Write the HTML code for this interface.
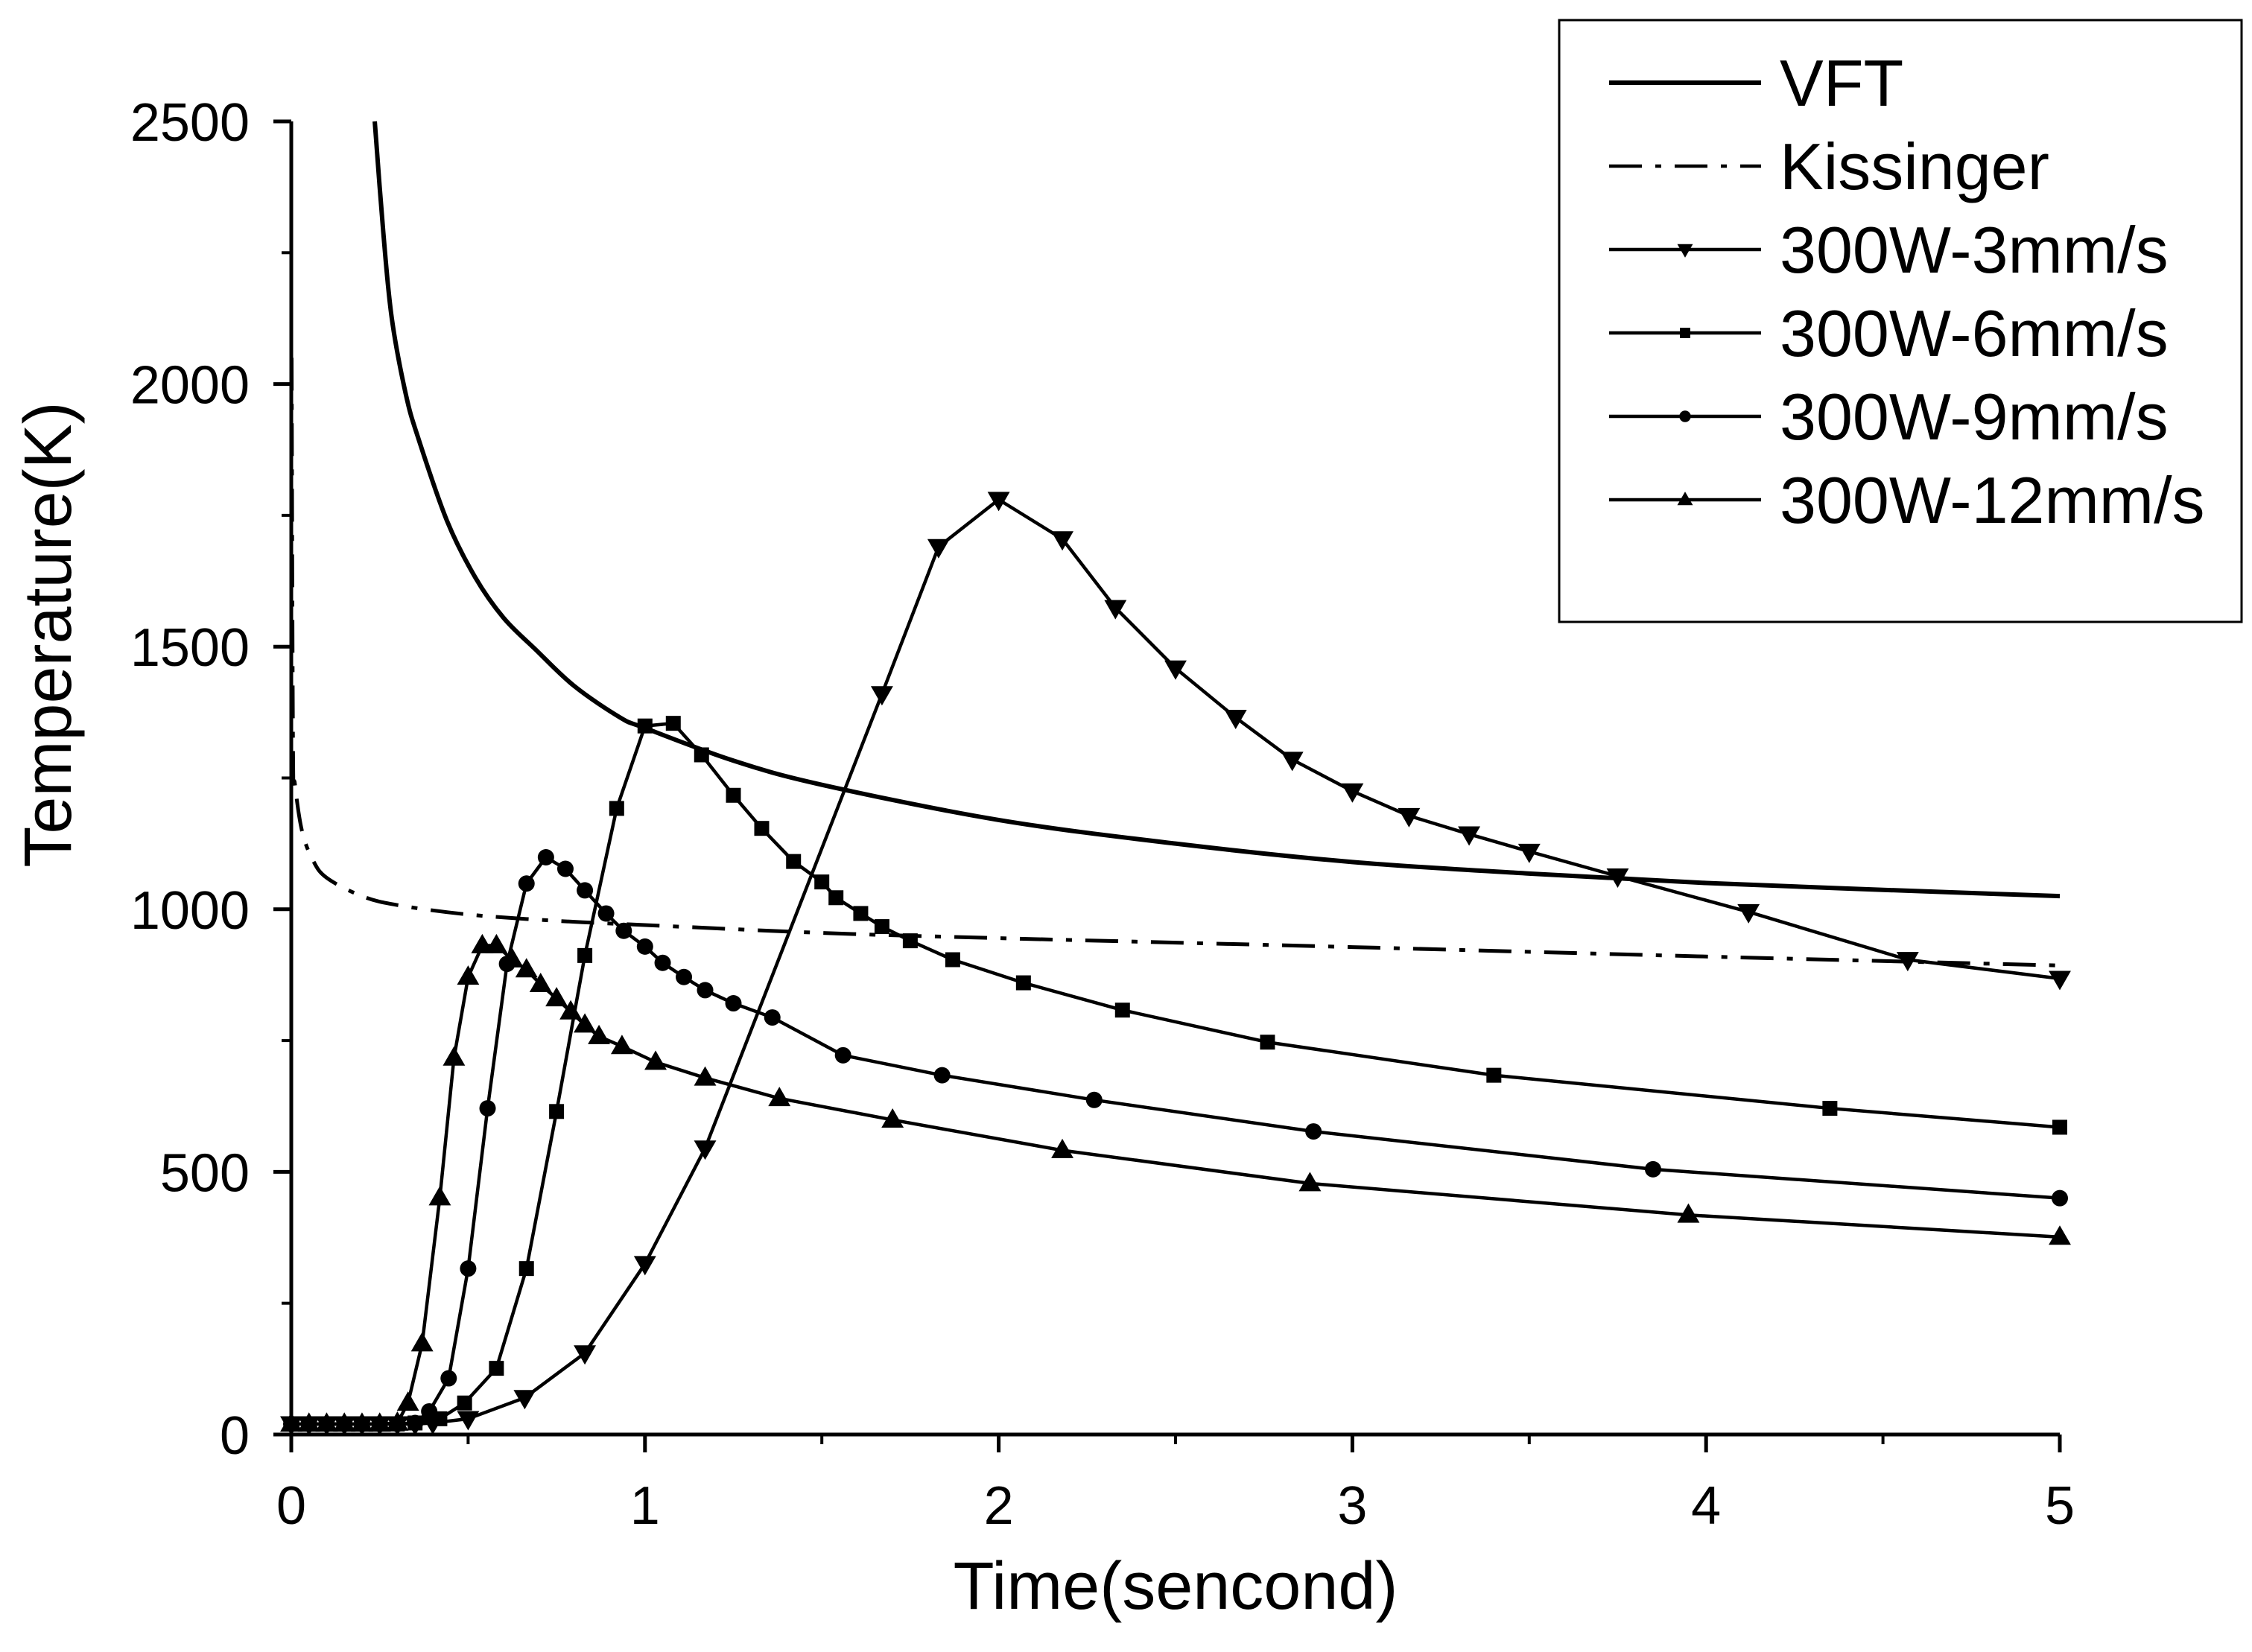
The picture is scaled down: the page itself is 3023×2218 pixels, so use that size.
<!DOCTYPE html>
<html><head><meta charset="utf-8"><style>
html,body{margin:0;padding:0;background:#fff;}
svg{display:block;}
text{font-family:"Liberation Sans",Arial,sans-serif;fill:#000;}
</style></head><body>
<svg id="chart" width="3023" height="2218" viewBox="0 0 3023 2218" xmlns="http://www.w3.org/2000/svg">
<g id="axes"></g>
<g id="series"></g>
<text x="1578" y="2160" font-size="90" text-anchor="middle">Time(sencond)</text>
<text transform="translate(95,852) rotate(-90)" font-size="90" text-anchor="middle">Temperature(K)</text>
<g id="legend"></g>
</svg>
<script>
const xTicks=[0,1,2,3,4,5];
const yTicks=[0,500,1000,1500,2000,2500];
const vftT=[0.236,0.26,0.284,0.324,0.36,0.44,0.52,0.6,0.69,0.8,0.93,1.0,1.25,1.5,2,2.5,3,3.5,4,4.5,5];
const vftV=[2500,2290,2126,1980,1895,1740,1632,1555,1495,1425,1365,1345,1283,1237,1170,1125,1090,1068,1050,1037,1025];
const kisT=[0.001,0.005,0.01,0.03,0.06,0.1,0.2,0.3,0.5,0.75,1,1.5,2,3,4,5];
const kisV=[2050,1300,1240,1150,1095,1060,1025,1008,990,978,970,955,945,928,910,893];
const s3T=[0,0.05,0.1,0.15,0.2,0.25,0.3,0.35,0.4,0.5,0.66,0.83,1.0,1.17,1.67,1.83,2.0,2.18,2.33,2.5,2.67,2.83,3.0,3.16,3.33,3.5,3.75,4.12,4.57,5.0];
const s3V=[20,20,20,20,20,20,20,20,22,30,70,155,325,545,1410,1690,1780,1705,1574,1459,1365,1285,1225,1178,1143,1110,1063,995,904,868];
const s6T=[0,0.05,0.1,0.15,0.2,0.25,0.3,0.35,0.42,0.49,0.58,0.665,0.75,0.83,0.92,1.0,1.08,1.16,1.25,1.33,1.42,1.5,1.54,1.61,1.67,1.75,1.87,2.07,2.35,2.76,3.4,4.35,5.0];
const s6V=[20,20,20,20,20,20,20,22,30,60,126,316,615,912,1192,1349,1354,1294,1217,1154,1091,1052,1022,992,967,940,904,860,808,747,684,621,585];
const s9T=[0,0.05,0.1,0.15,0.2,0.25,0.3,0.35,0.39,0.445,0.5,0.555,0.61,0.665,0.72,0.775,0.83,0.89,0.94,1.0,1.05,1.11,1.17,1.25,1.36,1.56,1.84,2.27,2.89,3.85,5.0];
const s9V=[20,20,20,20,20,20,20,22,44,107,316,621,896,1049,1099,1077,1036,992,959,929,898,871,846,821,794,722,684,637,577,505,450];
const s12T=[0,0.05,0.1,0.15,0.2,0.25,0.3,0.33,0.37,0.42,0.46,0.5,0.54,0.58,0.625,0.665,0.705,0.75,0.79,0.83,0.87,0.935,1.03,1.17,1.38,1.7,2.18,2.88,3.95,5.0];
const s12V=[20,20,20,20,20,20,22,60,173,451,717,871,931,931,904,885,857,830,805,780,758,739,709,679,640,599,541,478,418,376];
const legendLabels=["VFT","Kissinger","300W-3mm/s","300W-6mm/s","300W-9mm/s","300W-12mm/s"];

const NS="http://www.w3.org/2000/svg";
const X0=391,X1=2765,Y0=1926,Y1=163;
const xs=t=>X0+(t-0)/(5-0)*(X1-X0);
const ys=v=>Y0-(v-0)/(2500-0)*(Y0-Y1);
function mk(tag,attrs,parent){const e=document.createElementNS(NS,tag);for(const k in attrs)e.setAttribute(k,attrs[k]);parent.appendChild(e);return e;}
const axes=document.getElementById('axes'),ser=document.getElementById('series'),leg=document.getElementById('legend');

let e=mk('line',{x1:X0,y1:Y0,x2:X1,y2:Y0,stroke:'#000','stroke-width':5},axes);


e=mk('line',{x1:X0,y1:Y0,x2:X0,y2:Y1,stroke:'#000','stroke-width':5},axes);


xTicks.forEach((t,i)=>{
  let l=mk('line',{x1:xs(t),y1:Y0,x2:xs(t),y2:Y0+24,stroke:'#000','stroke-width':5},axes);
  
  
  if(i<xTicks.length-1){let m=mk('line',{x1:xs(t+0.5),y1:Y0,x2:xs(t+0.5),y2:Y0+13,stroke:'#000','stroke-width':4},axes);
  
  }
  let tx=mk('text',{x:xs(t),y:Y0+120,'font-size':72,'text-anchor':'middle'},axes);tx.textContent=t;
  
  
});
yTicks.forEach((v,i)=>{
  let l=mk('line',{x1:X0-24,y1:ys(v),x2:X0,y2:ys(v),stroke:'#000','stroke-width':5},axes);
  
  
  if(i<yTicks.length-1){let m=mk('line',{x1:X0-13,y1:ys(v+250),x2:X0,y2:ys(v+250),stroke:'#000','stroke-width':4},axes);
  
  }
  let tx=mk('text',{x:X0-56,y:ys(v)+26,'font-size':72,'text-anchor':'end'},axes);tx.textContent=v;
  
  
});

function smoothPath(T,V){
  const p=T.map((t,i)=>[xs(t),ys(V[i])]);
  let d='M'+p[0][0]+','+p[0][1];
  for(let i=0;i<p.length-1;i++){
    const p0=p[i-1]||p[i],p1=p[i],p2=p[i+1],p3=p[i+2]||p2;
    const c1=[p1[0]+(p2[0]-p0[0])/6,p1[1]+(p2[1]-p0[1])/6],c2=[p2[0]-(p3[0]-p1[0])/6,p2[1]-(p3[1]-p1[1])/6];
    d+=` C${c1[0]},${c1[1]} ${c2[0]},${c2[1]} ${p2[0]},${p2[1]}`;
  }
  return d;
}
function linePath(T,V){return T.map((t,i)=>(i?'L':'M')+xs(t)+','+ys(V[i])).join(' ');}
function marker(type,x,y,g){
  const r=13;
  if(type==='down')return mk('polygon',{points:`${x-r*1.15},${y-r*0.8} ${x+r*1.15},${y-r*0.8} ${x},${y+r*1.2}`,fill:'#000'},g);
  if(type==='up')return mk('polygon',{points:`${x-r*1.15},${y+r*0.8} ${x+r*1.15},${y+r*0.8} ${x},${y-r*1.2}`,fill:'#000'},g);
  if(type==='sq')return mk('rect',{x:x-10,y:y-10,width:20,height:20,fill:'#000'},g);
  return mk('circle',{cx:x,cy:y,r:11,fill:'#000'},g);
}
let p=mk('path',{d:smoothPath(vftT,vftV),fill:'none',stroke:'#000','stroke-width':6},ser);


p=mk('path',{d:smoothPath(kisT,kisV),fill:'none',stroke:'#000','stroke-width':5,'stroke-dasharray':'44,18,8,18'},ser);


const exp=[[s3T,s3V,'down','300w-3mm-s'],[s6T,s6V,'sq','300w-6mm-s'],[s9T,s9V,'circ','300w-9mm-s'],[s12T,s12V,'up','300w-12mm-s']];
exp.forEach(([T,V,type,name])=>{
  const g=mk('g',{},ser);
  
  
  const l=mk('path',{d:linePath(T,V),fill:'none',stroke:'#000','stroke-width':4.5,'stroke-linejoin':'round'},g);
  
  
  T.forEach((t,i)=>{const m=marker(type,xs(t),ys(V[i]),g);
    
    });
});

e=mk('rect',{x:2093,y:27,width:916,height:808,fill:'#fff',stroke:'#000','stroke-width':3},leg);


const types=[null,null,'down','sq','circ','up'];
legendLabels.forEach((lab,i)=>{
  const y=111+i*112;
  const g=mk('g',{},leg);
  
  
  const attrs={x1:2160,y1:y,x2:2364,y2:y,stroke:'#000','stroke-width':i===0?6:4.5};
  if(i===1)attrs['stroke-dasharray']='44,18,8,18';
  mk('line',attrs,g);
  if(types[i]){const m=marker(types[i],2262,y,g);m.setAttribute('transform',`translate(${2262*0.3},${y*0.3}) scale(0.7)`);}
  const t=mk('text',{x:2389,y:y+31,'font-size':88},g);t.textContent=lab;
});
</script>
</body></html>
